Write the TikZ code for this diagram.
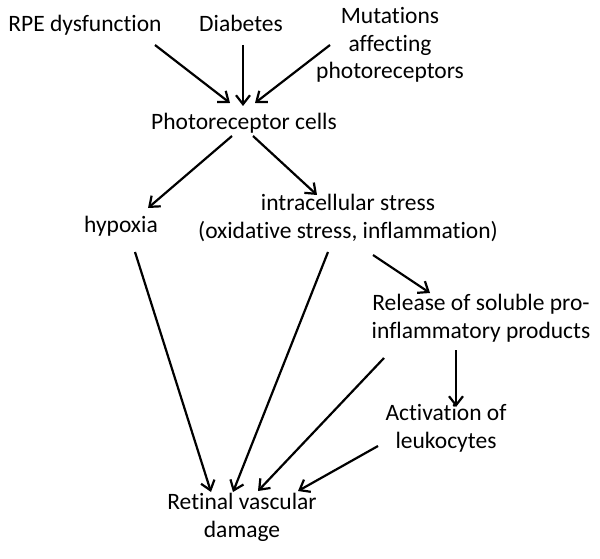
\documentclass[tikz,border=0pt]{standalone}
\usepackage{fontspec}
\setmainfont{Carlito}[Ligatures=NoCommon]
\usetikzlibrary{arrows.meta}
\begin{document}
\begin{tikzpicture}[x=1pt,y=-1pt,
  lbl/.style={inner sep=0pt,align=center,anchor=base,font=\fontsize{23.5}{27.5}\selectfont},
  conn/.style={line width=2.2pt,-{Straight Barb[length=9pt,width=14pt]}}]
\useasboundingbox[fill=white] (0,0) rectangle (600,559);
\node[lbl] (rpe) at (85,32) {RPE dysfunction};
\node[lbl] (dia) at (241,32) {Diabetes};
\node[lbl] (mut) at (390,79) {Mutations\\affecting\\photoreceptors};
\node[lbl] (pho) at (244,130) {Photoreceptor cells};
\node[lbl] (hyp) at (121,232) {hypoxia};
\node[lbl] (ins) at (348,238) {intracellular stress\\(oxidative stress, inflammation)};
\node[lbl] (rel) at (481,338) {Release of soluble pro-\\inflammatory products};
\node[lbl] (act) at (446,448) {Activation of\\leukocytes};
\node[lbl] (dam) at (242,537) {Retinal vascular\\damage};
\draw[conn] ([shift={(70,13)}]rpe.base) -- ([shift={(-14,-27)}]pho.base);
\draw[conn] ([shift={(2,13)}]dia.base) -- ([shift={(-1,-24)}]pho.base);
\draw[conn] ([shift={(-60,-34)}]mut.base) -- ([shift={(11,-27)}]pho.base);
\draw[conn] ([shift={(-12,6)}]pho.base) -- ([shift={(27,-24)}]hyp.base);
\draw[conn] ([shift={(9,6)}]pho.base) -- ([shift={(-31,-43)}]ins.base);
\draw[conn] ([shift={(14,20)}]hyp.base) -- ([shift={(-31,-45)}]dam.base);
\draw[conn] ([shift={(-20,14)}]ins.base) -- ([shift={(-9,-45)}]dam.base);
\draw[conn] ([shift={(25,17)}]ins.base) -- ([shift={(-51,-45)}]rel.base);
\draw[conn] ([shift={(-97,20)}]rel.base) -- ([shift={(16,-46)}]dam.base);
\draw[conn] ([shift={(-25,12)}]rel.base) -- ([shift={(10,-41)}]act.base);
\draw[conn] ([shift={(-68,-2)}]act.base) -- ([shift={(56,-46)}]dam.base);
\end{tikzpicture}
\end{document}
